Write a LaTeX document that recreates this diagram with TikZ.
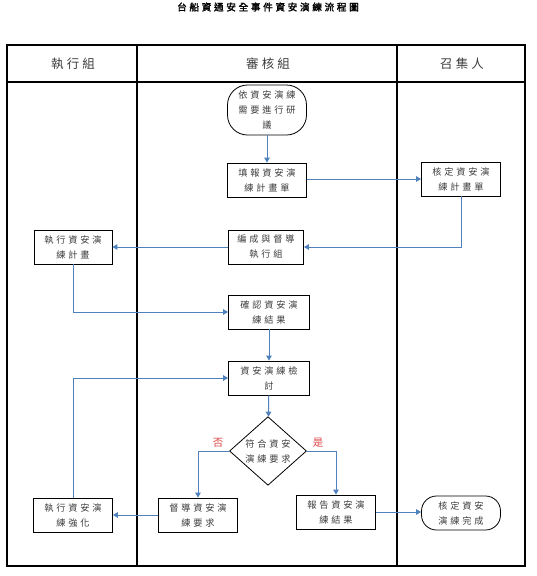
\documentclass[tikz,border=0pt]{standalone}
\usepackage{fontspec}
\setmainfont{Noto Sans CJK TC}[LetterSpace=30]
\newfontfamily\nodefont{Noto Sans CJK TC}[LetterSpace=30]
\newfontfamily\headfont{Noto Sans CJK TC}[LetterSpace=25]
\newfontfamily\titlefont{Noto Sans CJK TC}[LetterSpace=28,FakeBold=2]
\usetikzlibrary{arrows.meta,shapes.geometric}
\definecolor{lineblue}{RGB}{79,129,189}
\definecolor{txt}{RGB}{60,60,60}
\definecolor{lblred}{RGB}{220,70,70}
\tikzset{
  frameline/.style={line width=2.2pt,black},
  divline/.style={line width=1.6pt,black},
  procbox/.style={draw=black,line width=0.8pt,rectangle,minimum width=79pt,minimum height=34pt,inner sep=0pt,align=center,text=txt,font=\nodefont\fontsize{9.2}{15}\selectfont},
  termbox/.style={procbox,rounded corners=15pt},
  decbox/.style={draw=black,line width=0.8pt,diamond,minimum width=77pt,minimum height=56pt,inner sep=0pt,align=center,text=txt,font=\nodefont\fontsize{9.2}{15}\selectfont},
  flow/.style={draw=lineblue,line width=1pt,-{Triangle[width=5.5pt,length=5pt]}},
  headtext/.style={text=txt,font=\headfont\fontsize{12.5}{14}\selectfont},
  lbl/.style={text=lblred,font=\headfont\fontsize{10.5}{12}\selectfont}
}
\begin{document}
\begin{tikzpicture}[x=1pt,y=-1pt]
\useasboundingbox (0,0) rectangle (537,576);
% title
\node[font=\titlefont\fontsize{9.6}{11}\selectfont] (title) at (268,7) {台船資通安全事件資安演練流程圖};
% frame
\draw[frameline] (7,45) rectangle (525,566);
\draw[divline] (7,82) -- (525,82);
\draw[divline] (137,45) -- (137,566);
\draw[divline] (397,45) -- (397,566);
% headers
\node[headtext] (h1) at (73,64) {執行組};
\node[headtext] (h2) at (268,64) {審核組};
\node[headtext] (h3) at (462,64) {召集人};
% nodes
\node[termbox,minimum height=50pt,rounded corners=20pt] (start) at (267,110) {依資安演練\\需要進行研\\議};
\node[procbox] (fill) at (267,180) {填報資安演\\練計畫單};
\node[procbox] (approve) at (461,179) {核定資安演\\練計畫單};
\node[procbox,minimum width=75pt] (org) at (266,247) {編成與督導\\執行組};
\node[procbox,minimum width=78pt] (exec) at (73,247) {執行資安演\\練計畫};
\node[procbox,minimum width=81pt] (confirm) at (269,312) {確認資安演\\練結果};
\node[procbox,minimum width=81pt] (review) at (269,378) {資安演練檢\\討};
\node[decbox] (dec) at (268,451) {符合資安\\演練要求};
\node[procbox] (super) at (198,515) {督導資安演\\練要求};
\node[procbox] (report) at (336,512) {報告資安演\\練結果};
\node[termbox] (done) at (461,513) {核定資安\\演練完成};
\node[procbox] (strong) at (73,515) {執行資安演\\練強化};
% labels
\node[lbl] (no) at (218,443) {否};
\node[lbl] (yes) at (318,443) {是};
% connectors
\draw[flow] (start) -- (fill);
\draw[flow] (fill.east |- approve.west) -- (approve.west);
\draw[flow] (approve.south) |- (org.east);
\draw[flow] (org.west) -- (exec.east);
\draw[flow] (exec.south) |- (confirm.west);
\draw[flow] (confirm) -- (review);
\draw[flow] (strong.north) |- (review.west);
\draw[flow] (review) -- (dec);
\draw[flow] (dec.west) -| (super.north);
\draw[flow] (dec.east) -| (report.north);
\draw[flow] (report.east) -- (report.east -| done.west);
\draw[flow] (super.west) -- (strong.east);
\end{tikzpicture}
\end{document}
